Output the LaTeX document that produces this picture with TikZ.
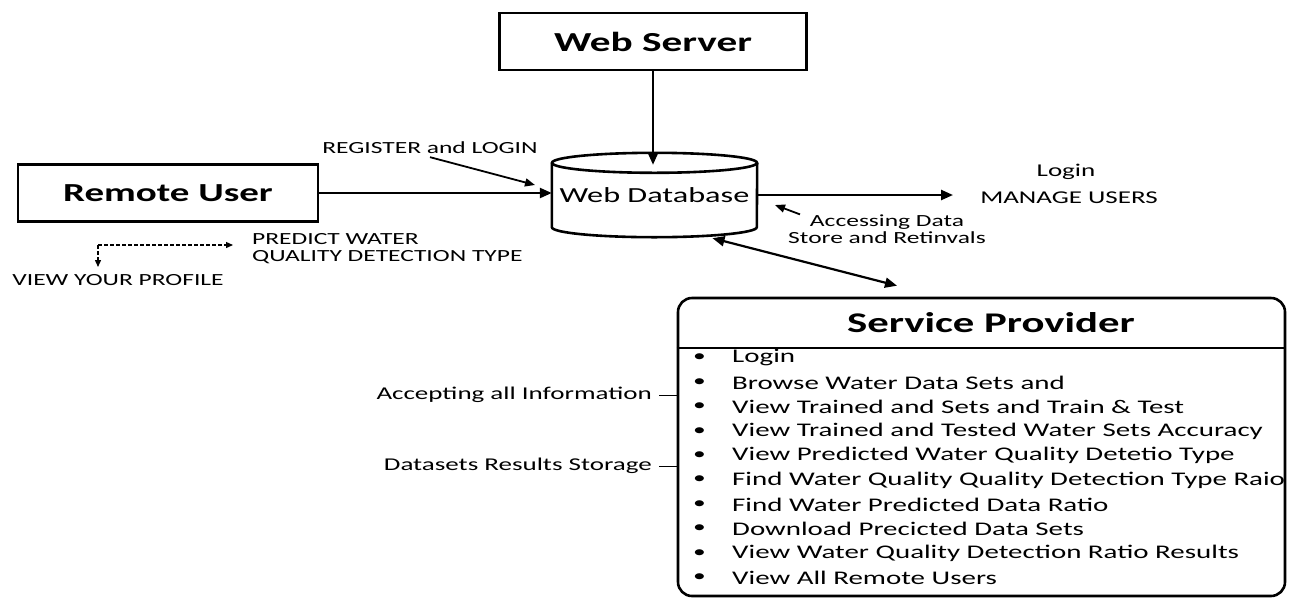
\documentclass[tikz,border=0pt]{standalone}
\usepackage{fontspec}
\setmainfont{Carlito}[FakeStretch=1.5]
\usetikzlibrary{arrows.meta,positioning}

\begin{document}
\begin{tikzpicture}[x=1pt,y=-1pt,
    box/.style={draw,line width=2.6pt,minimum width=300pt,minimum height=57pt,
      font=\fontsize{26}{30}\selectfont\bfseries},
    flow/.style={line width=2.4pt,-{Triangle[length=12pt,width=10pt]}},
    thinflow/.style={line width=1.8pt,-{Triangle[length=10pt,width=8pt]}},
    dashflow/.style={line width=1.3pt,dash pattern=on 3.5pt off 2.5pt,-{Triangle[length=7pt,width=6pt]}},
    lbl/.style={inner sep=0pt,font=\fontsize{17}{17}\selectfont},
    side/.style={inner sep=0pt,anchor=east,font=\fontsize{18}{18}\selectfont},
    item/.style={anchor=west,inner sep=0pt,font=\fontsize{19.3}{20}\selectfont}]
  \useasboundingbox (0,0) rectangle (1290,598);

  % boxes and database
  \node[box,minimum width=307pt,font=\fontsize{27.5}{30}\selectfont\bfseries] (ws) at (653,41.5) {Web Server};
  \node[box] (ru) at (168,193) {Remote User};
  \node[minimum width=205pt,minimum height=84pt,inner sep=0pt,font=\fontsize{21.5}{24}\selectfont] (db) at (654.5,195) {Web Database};
  \draw[line width=2.6pt] ([yshift=-10pt]db.north west) -- ([yshift=10pt]db.south west)
    arc[start angle=180,end angle=360,x radius=102.5pt,y radius=10pt] -- ([yshift=-10pt]db.north east);
  \draw[line width=2.6pt] ([yshift=-10pt]db.north) ellipse[x radius=102.5pt,y radius=10pt];

  % arrows round the database
  \coordinate (dbtop) at ([yshift=-12pt]db.north);
  \draw[flow] (ws.south) -- (ws.south |- dbtop);
  \draw[flow] (ru.east) -- (ru.east -| db.west);
  \coordinate (mu) at (953,195);
  \draw[flow] (db.east) -- (mu);
  \node[lbl,font=\fontsize{18}{18}\selectfont] (login) at (1066,172) {Login};
  \node[lbl,font=\fontsize{18}{18}\selectfont] (manage) at (1069,198) {MANAGE USERS};

  \node[lbl] (reg) at (430,148) {REGISTER and LOGIN};
  \coordinate (regtip) at (535,185);
  \draw[thinflow] ([yshift=-3pt]reg.south) -- (regtip);

  \node[lbl,align=center] (acc) at (887,229) {Accessing Data\\Store and Retinvals};
  \coordinate (acctip) at (775,205);
  \draw[thinflow] ([xshift=12pt]acc.north west) -- (acctip);

  % remote user actions
  \coordinate (dc) at (98,245);
  \node[lbl,anchor=west,align=left] (pred) at (252,248.5) {PREDICT WATER\\QUALITY DETECTION TYPE};
  \node[lbl] (vyp) at (118,280) {VIEW YOUR PROFILE};
  \draw[dashflow] (dc) -- ([xshift=-19pt]pred.west |- dc);
  \draw[dashflow] (dc) -- ++(0,22);

  % service provider
  \node[draw,line width=2.6pt,rounded corners=14pt,minimum width=607pt,minimum height=298pt] (sp) at (981.5,447) {};
  \node[font=\fontsize{28.5}{30}\selectfont\bfseries] (spt) at (991,323) {Service Provider};
  \coordinate (hl) at (0,348);
  \draw[line width=1.5pt] (sp.west |- hl) -- (sp.east |- hl);
  \draw[line width=2.2pt,{Triangle[length=12pt,width=10pt]}-{Triangle[length=12pt,width=10pt]}]
    ([xshift=58pt,yshift=-1pt]db.south) -- ([xshift=-84.5pt,yshift=11pt]sp.north);

  \begin{scope}
    \clip (679,300) rectangle (1284,595);
    \foreach \txt [count=\i from 0] in {Login,Browse Water Data Sets and,
        View Trained and Sets and Train \& Test,View Trained and Tested Water Sets Accuracy,
        View Predicted Water Quality Detetio Type,Find Water Quality Quality Detection Type Raio,
        Find Water Predicted Data Ratio,Download Precicted Data Sets,
        View Water Quality Detection Ratio Results,View All Remote Users}{
      \node[item,font=\fontsize{17}{18}\selectfont] (bul\i) at (693,358+24.4*\i) {\textbullet};
      \node[item] (it\i) at (732,358+24.4*\i) {\txt};
    }
  \end{scope}

  \node[side] (info) at (652,395) {Accepting all Information};
  \node[side] (store) at (652,466) {Datasets Results Storage};
  \draw[line width=1pt] ([xshift=7pt]info.east) -- (sp.west |- info.east);
  \draw[line width=1pt] ([xshift=7pt]store.east) -- (sp.west |- store.east);
\end{tikzpicture}
\end{document}
